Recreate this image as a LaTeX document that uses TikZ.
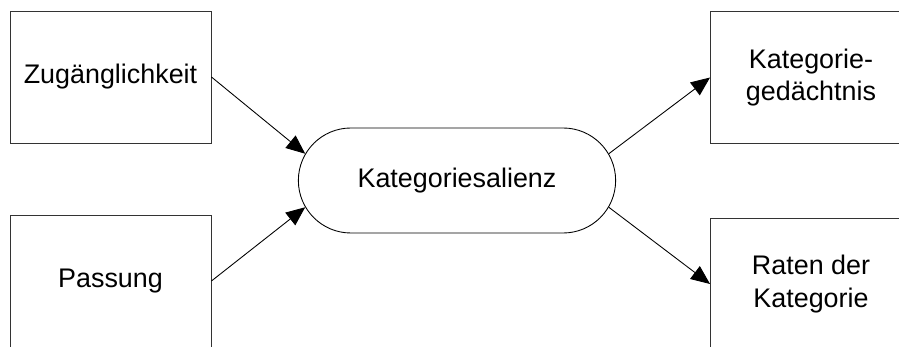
\documentclass[tikz,border=0pt]{standalone}
\usepackage{fontspec}
\setmainfont{Liberation Sans}
\usetikzlibrary{shapes.misc, arrows.meta}

\begin{document}
\begin{tikzpicture}[
		box/.style={draw=black!80, line width=0.5pt, minimum width=4.02cm, minimum height=2.64cm, align=center, inner sep=0pt},
		pfeil/.style={line width=0.5pt, -{Triangle[length=0.38cm, width=0.32cm]}},
		font=\fontsize{15.3}{18.7}\selectfont
	]
		\useasboundingbox (0, 0) rectangle (17.98, -6.94);
		
		\node[box] (zug) at (2.21, -1.54) {Zugänglichkeit};
		\node[box] (pass) at (2.21, -5.62) {Passung};
		\node[box] (gedaechtnis) at (16.22, -1.55) {Kategorie-\\gedächtnis};
		\node[box] (raten) at (16.22, -5.68) {Raten der\\Kategorie};
		
		\node[draw, rounded rectangle, line width=0.5pt, minimum width=6.58cm, minimum height=2.1cm] (salienz) at (9.14, -3.61) {Kategoriesalienz};
		
		\draw[pfeil] (zug.east) -- (salienz.170);
		\draw[pfeil] (pass.east) -- (salienz.190);
		\draw[pfeil] (salienz.10) -- (gedaechtnis.west);
		\draw[pfeil] (salienz.350) -- (raten.west);
	\end{tikzpicture}
\end{document}
